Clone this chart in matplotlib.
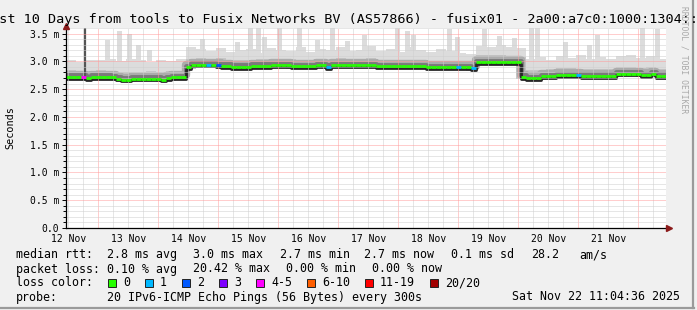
"""SmokePing style chart: last 10 days, tools -> fusix01 (IPv6)."""

import matplotlib
matplotlib.use('Agg')
import matplotlib.pyplot as plt
import matplotlib.transforms as mtransforms
from matplotlib.patches import Rectangle
from matplotlib.lines import Line2D
import numpy as np

W, H = 697, 310
FONT = 'DejaVu Sans Mono'

# time axis: hours since Nov 12 11:04:36, 240 h shown
# median rtt (ms), 2 h bins
median = [2.72, 2.72, 2.72, 2.72, 2.70, 2.72, 2.72, 2.72, 2.72, 2.71, 2.69, 2.67,
          2.67, 2.69, 2.69, 2.69, 2.69, 2.69, 2.69, 2.67, 2.70, 2.71, 2.71, 2.71,
          2.89, 2.94, 2.94, 2.94, 2.94, 2.94, 2.93, 2.92, 2.92, 2.90, 2.90, 2.90,
          2.90, 2.92, 2.92, 2.92, 2.92, 2.93, 2.93, 2.93, 2.93, 2.91, 2.91, 2.91,
          2.91, 2.91, 2.93, 2.93, 2.90, 2.93, 2.93, 2.93, 2.93, 2.93, 2.93, 2.93,
          2.93, 2.93, 2.91, 2.91, 2.91, 2.91, 2.91, 2.91, 2.91, 2.91, 2.91, 2.91,
          2.89, 2.89, 2.89, 2.89, 2.89, 2.89, 2.89, 2.89, 2.89, 2.88, 2.98, 2.98,
          2.98, 2.98, 2.98, 2.98, 2.98, 2.98, 2.98, 2.72, 2.70, 2.70, 2.70, 2.73,
          2.73, 2.73, 2.75, 2.75, 2.75, 2.75, 2.75, 2.74, 2.74, 2.74, 2.74, 2.74,
          2.74, 2.74, 2.78, 2.78, 2.78, 2.78, 2.78, 2.75, 2.75, 2.78, 2.74, 2.74]
# bins with lost pings (out of 20)
loss_bins = [3, 28, 30, 52, 78, 81, 102]
loss_pings = [4, 1, 2, 1, 1, 1, 1]

# smoke envelope (ms), 4 h bins
smoke_lo = [2.66, 2.67, 2.65, 2.66, 2.66, 2.63, 2.63, 2.64, 2.64, 2.63, 2.65, 2.66,
            2.87, 2.89, 2.89, 2.89, 2.86, 2.85, 2.86, 2.87, 2.87, 2.88, 2.87, 2.86,
            2.86, 2.88, 2.86, 2.88, 2.88, 2.88, 2.88, 2.86, 2.86, 2.86, 2.86, 2.86,
            2.84, 2.84, 2.84, 2.84, 2.83, 2.93, 2.93, 2.93, 2.93, 2.68, 2.65, 2.67,
            2.68, 2.70, 2.70, 2.70, 2.69, 2.69, 2.69, 2.73, 2.73, 2.71, 2.71, 2.69]
smoke_mid = [2.84, 2.83, 2.82, 2.84, 2.83, 2.80, 2.81, 2.81, 2.82, 2.80, 2.82, 2.83,
             3.04, 3.06, 3.05, 3.06, 3.03, 3.02, 3.03, 3.04, 3.05, 3.05, 3.04, 3.03,
             3.03, 3.05, 3.03, 3.06, 3.05, 3.05, 3.06, 3.03, 3.03, 3.02, 3.03, 3.03,
             3.01, 3.01, 3.00, 3.01, 3.00, 3.12, 3.11, 3.12, 3.10, 3.08, 2.84, 2.85,
             2.86, 2.88, 2.88, 2.87, 2.87, 2.86, 2.87, 2.90, 2.90, 2.88, 2.89, 2.87]
smoke_hi = [3.02, 2.98, 3.03, 3.02, 3.04, 3.00, 3.05, 3.03, 2.98, 3.02, 3.00, 3.04,
            3.25, 3.22, 3.18, 3.24, 3.16, 3.20, 3.22, 3.15, 3.24, 3.20, 3.18, 3.25,
            3.17, 3.22, 3.20, 3.26, 3.18, 3.21, 3.28, 3.18, 3.22, 3.17, 3.25, 3.20,
            3.16, 3.22, 3.18, 3.15, 3.14, 3.28, 3.25, 3.30, 3.26, 3.24, 3.05, 3.08,
            3.02, 3.10, 3.06, 3.12, 3.04, 3.08, 3.05, 3.10, 3.12, 3.06, 3.10, 3.05]

# single tall max-ping columns (hour, ms)
spike_h = [15.6, 20.4, 24.4, 28.0, 32.4, 53.6, 67.6, 72.8, 76.0, 78.4, 84.4, 92.4,
           99.6, 105.6, 111.6, 118.4, 131.6, 135.6, 138.0, 152.4, 155.6, 166.4,
           172.4, 178.4, 185.2, 187.6, 198.8, 208.4, 211.6, 229.6, 235.6]
spike_v = [3.38, 3.55, 3.50, 3.30, 3.20, 3.40, 3.35, 3.60, 3.60, 3.44, 3.60, 3.60,
           3.38, 3.60, 3.36, 3.47, 3.60, 3.55, 3.47, 3.58, 3.44, 3.58,
           3.45, 3.42, 3.60, 3.60, 3.35, 3.30, 3.47, 3.60, 3.58]
dark_spike_h = [7.6]
dark_spike_v = [3.70]

day_labels = ['12 Nov', '13 Nov', '14 Nov', '15 Nov', '16 Nov',
              '17 Nov', '18 Nov', '19 Nov', '20 Nov', '21 Nov']
y_ticks = [0.0, 0.5, 1.0, 1.5, 2.0, 2.5, 3.0, 3.5]
y_ticklabels = ['0.0', '0.5 m', '1.0 m', '1.5 m', '2.0 m', '2.5 m', '3.0 m', '3.5 m']

loss_labels = ['0', '1', '2', '3', '4-5', '6-10', '11-19', '20/20']
loss_colors = ['#26ff00', '#00b8ff', '#0059ff', '#7e00ff', '#ff00ff',
               '#ff5e00', '#ff0000', '#a10000']
loss_upper = [0, 1, 2, 3, 5, 10, 19, 20]

start_hour = 11 + 4 / 60 + 36 / 3600   # clock time at left edge


def loss_color(n):
    for up, c in zip(loss_upper, loss_colors):
        if n <= up:
            return c
    return loss_colors[-1]


fig = plt.figure(figsize=(W / 100, H / 100), dpi=100, facecolor='#f0f0f0')
ax = fig.add_axes([66 / W, 82 / H, 600 / W, 200 / H], facecolor='white')


def ftext(x, y, s, **kw):
    kw.setdefault('family', FONT)
    return fig.text(x / W, 1 - y / H, s, **kw)


def offs(dy):
    return mtransforms.offset_copy(ax.transData, fig=fig, x=0, y=dy, units='dots')


# --- smoke ---
e2 = np.arange(0, 242, 2)
e4 = np.arange(0, 244, 4)
lo = np.append(smoke_lo, smoke_lo[-1])
mid = np.append(smoke_mid, smoke_mid[-1])
hi = np.append(smoke_hi, smoke_hi[-1])
ax.bar(spike_h, np.array(spike_v) - 3.0, bottom=3.0, width=2.0, align='edge',
       color='#dcdcdc', linewidth=0, zorder=1)
ax.fill_between(e4, lo, hi, step='post', color='#dcdcdc', lw=0, zorder=1)
ax.fill_between(e4, lo, mid, step='post', color='#c6c6c6', lw=0, zorder=1.2)

med = np.append(median, median[-1])
ax.step(e2, med, where='post', color='#acacac', lw=6, zorder=1.3,
        transform=offs(2.0))
ax.step(e2, med, where='post', color='#7a7a7a', lw=3.5, zorder=1.4,
        transform=offs(1.5))
ax.step(e2, med, where='post', color='#262626', lw=2.0, zorder=1.6,
        transform=offs(-1.8))
ax.vlines(dark_spike_h, 2.72, dark_spike_v, color='#555555', lw=1.6, zorder=1.7)

# --- grid (dotted) ---
dotted = (0, (1, 1))
gkw = dict(lw=0.72, ls=dotted, zorder=3)
for k in range(41):
    h = 12 - start_hour + 6 * k
    if 0 < h < 240:
        if abs((h - (24 - start_hour)) % 24) < 1e-6:
            ax.axvline(h, color='#ff9c9c', **gkw)
        else:
            ax.axvline(h, color='#cfcfcf', **gkw)
for k in range(1, 37):
    v = k * 0.1
    if k % 5 == 0:
        ax.axhline(v, color='#ff9c9c', **gkw)
    else:
        ax.axhline(v, color='#cfcfcf', **gkw)

# --- median line coloured by loss ---
cols = ['#26ff00'] * len(median)
for b, n in zip(loss_bins, loss_pings):
    cols[b] = loss_color(n)
ax.hlines(median, e2[:-1], e2[1:], colors=cols, lw=2.0, zorder=5)

ax.set_xlim(0, 240)
ax.set_ylim(0, 3.6)
for s in ax.spines.values():
    s.set_visible(False)

ax.set_yticks(y_ticks)
ax.set_yticklabels(y_ticklabels, family=FONT, fontsize=7)
ax.set_yticks(np.arange(0.1, 3.6, 0.1), minor=True)
ax.tick_params(axis='y', which='major', length=3, width=0.7, pad=2, direction='out')
ax.tick_params(axis='y', which='minor', length=2, width=0.7, direction='out')

noon = [12 - start_hour + 24 * k + 24 for k in range(-1, 9)]
ax.set_xticks(noon)
ax.set_xticklabels(day_labels, family=FONT, fontsize=7)
ax.tick_params(axis='x', which='major', length=0, pad=4.5)

# axis lines with arrows
fig.add_artist(Line2D([66 / W, 670 / W], [1 - 228 / H] * 2, color='black', lw=0.9))
fig.add_artist(Line2D([66 / W] * 2, [1 - 228 / H, 1 - 26 / H], color='black', lw=0.9))
fig.add_artist(Line2D([669 / W], [1 - 228 / H], marker='>', ms=4.5,
                      color='#8b1a1a', lw=0))
fig.add_artist(Line2D([66 / W], [1 - 26 / H], marker='^', ms=4.5,
                      color='#8b1a1a', lw=0))

# frame
fig.add_artist(Line2D([0, 694 / W], [1 - 307.5 / H] * 2, color='#9a9a9a', lw=1.6))
fig.add_artist(Line2D([692.5 / W] * 2, [1 - 307.5 / H, 1], color='#9a9a9a', lw=1.6))

# --- texts ---
ftext(348.5, 23, 'Last 10 Days from tools to Fusix Networks BV (AS57866) - fusix01 '
      '- 2a00:a7c0:1000:1304::13', size=9.7, ha='center', va='baseline')
ftext(10, 128, 'Seconds', size=7.3, rotation=90, ha='center', va='center')
ftext(684, 60, 'RRDTOOL / TOBI OETIKER', size=5.8, rotation=270,
      ha='center', va='center', color='#a8a8a8')

fs = 8.4
rows = [
    (258, [(16, 'median rtt:'), (107.3, '2.8 ms avg'), (193.3, '3.0 ms max'),
           (279.5, '2.7 ms min'), (364.5, '2.7 ms now'), (451, '0.1 ms sd'),
           (530.7, '28.2'), (579.3, 'am/s')]),
    (272.5, [(16, 'packet loss:'), (107.3, '0.10 % avg'), (193.3, '20.42 % max'),
             (286, '0.00 % min'), (372.3, '0.00 % now')]),
    (286.5, [(16, 'loss color:')]),
    (300.5, [(16, 'probe:'), (107.3, '20 IPv6-ICMP Echo Pings (56 Bytes) every 300s')]),
]
for y, items in rows:
    for x, s in items:
        ftext(x, y, s, size=fs, va='baseline')
ftext(680, 300.5, 'Sat Nov 22 11:04:36 2025', size=fs, va='baseline', ha='right')

sq_x = [108, 145, 182, 219, 256, 307, 365, 430]
for x, lab, c in zip(sq_x, loss_labels, loss_colors):
    fig.add_artist(Rectangle((x / W, 1 - 286.5 / H), 8 / W, 8 / H,
                             facecolor=c, edgecolor='#222222', lw=0.7))
    ftext(x + 15, 286.5, lab, size=fs, va='baseline')

fig.savefig('out.png', dpi=100, facecolor=fig.get_facecolor())
